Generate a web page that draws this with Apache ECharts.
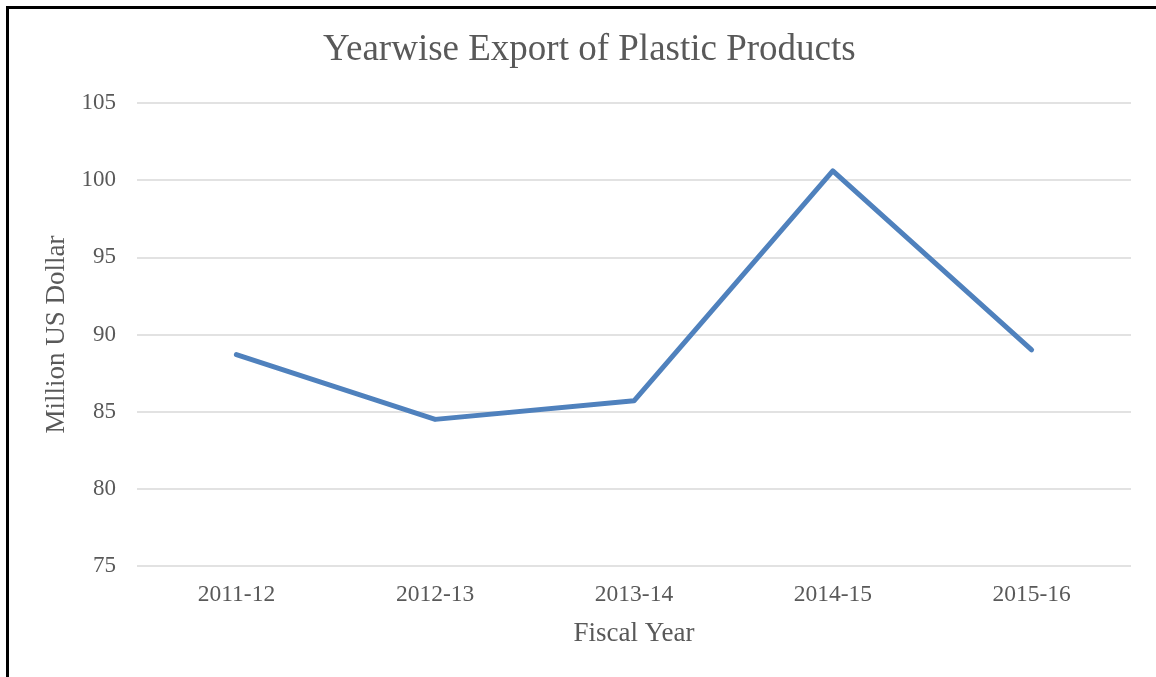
<!DOCTYPE html>
<html>
<head>
<meta charset="utf-8">
<script src="https://cdn.jsdelivr.net/npm/echarts@6/dist/echarts.min.js"></script>
<style>
  html, body { margin: 0; padding: 0; background: #fff; }
  .frame {
    position: absolute;
    left: 6px;
    top: 6px;
    width: 1150px;
    height: 671px;
    border-left: 3px solid #000;
    border-top: 3px solid #000;
    box-sizing: border-box;
  }
  #chart { position: absolute; left: 0; top: 0; width: 1156px; height: 677px; }
</style>
</head>
<body>
<div class="frame"></div>
<div id="chart"></div>
<script>
// 数据
var years = ['2011-12', '2012-13', '2013-14', '2014-15', '2015-16']
var exportValues = [88.7, 84.5, 85.7, 100.6, 89.0]
var yMin = 75
var yMax = 105
var yStep = 5

var chart = echarts.init(document.getElementById('chart'))
var textColor = '#595959'
var fontFamily = '"Liberation Serif", "Times New Roman", serif'

var option = {
  animation: false,
  title: {
    text: 'Yearwise Export of Plastic Products',
    left: 318,
    top: 27,
    textStyle: {
      color: textColor,
      fontFamily: fontFamily,
      fontSize: 37,
      fontWeight: 'normal'
    }
  },
  grid: {
    left: 137,
    right: 25,
    top: 103,
    bottom: 111
  },
  xAxis: {
    type: 'category',
    data: years,
    name: 'Fiscal Year',
    nameLocation: 'middle',
    nameGap: 54,
    nameTextStyle: { color: textColor, fontFamily: fontFamily, fontSize: 27 },
    axisLabel: { color: textColor, fontFamily: fontFamily, fontSize: 23.5, margin: 17 },
    axisLine: { show: false },
    axisTick: { show: false }
  },
  yAxis: {
    type: 'value',
    min: yMin,
    max: yMax,
    interval: yStep,
    name: 'Million US Dollar',
    nameLocation: 'middle',
    nameGap: 62,
    nameTextStyle: { color: textColor, fontFamily: fontFamily, fontSize: 27 },
    axisLabel: { color: textColor, fontFamily: fontFamily, fontSize: 23, margin: 21 },
    axisLine: { show: false },
    axisTick: { show: false },
    // 分割线
    splitLine: { show: true, lineStyle: { color: '#d9d9d9', width: 1.5 } }
  },
  series: [
    {
      name: 'Export',
      type: 'line',
      data: exportValues,
      showSymbol: false,
      lineStyle: { color: '#4f81bd', width: 5, cap: 'round', join: 'round' }
    }
  ]
}

chart.setOption(option)
</script>
</body>
</html>
